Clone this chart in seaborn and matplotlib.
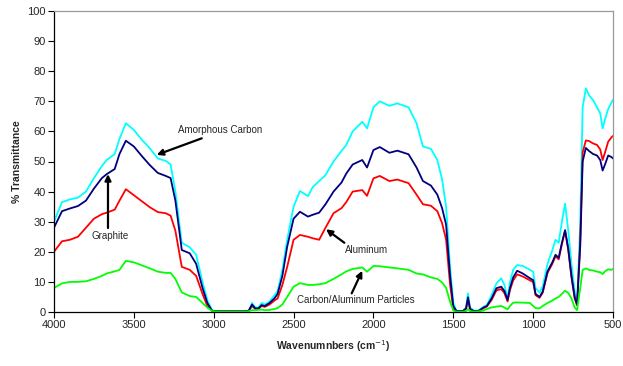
import matplotlib
matplotlib.use("Agg")
import matplotlib.pyplot as plt
import seaborn as sns
import pandas as pd

wavenumbers = [
    4000, 3950, 3900, 3850, 3800, 3750, 3700, 3670, 3620, 3590,
    3550, 3500, 3450, 3400, 3350, 3300, 3270, 3240, 3200, 3150,
    3110, 3070, 3040, 3010, 2950, 2800, 2780, 2760, 2740, 2720,
    2700, 2680, 2650, 2620, 2600, 2570, 2540, 2500, 2460, 2410,
    2380, 2340, 2300, 2250, 2200, 2170, 2130, 2070, 2040, 2000,
    1960, 1900, 1850, 1780, 1730, 1690, 1640, 1600, 1570, 1545,
    1520, 1500, 1480, 1440, 1420, 1408, 1395, 1370, 1340, 1310,
    1290, 1260, 1230, 1200, 1180, 1160, 1145, 1125, 1100, 1065,
    1020, 1000, 985, 960, 940, 910, 880, 860, 840, 820,
    800, 780, 760, 740, 725, 705, 690, 670, 650, 625,
    600, 580, 565, 550, 530, 510, 500]

amorphous_carbon = [
    30, 36.5, 37.4, 38, 40, 44.5, 48.5, 50.5, 52.5, 57.5,
    62.7, 60.5, 57.2, 54.4, 51, 50.2, 49, 40, 23, 21.5,
    19, 10, 4, 0.5, 0.2, 0.2, 0.5, 3, 1.5, 1.5,
    3, 2.5, 3.5, 5.5, 7, 14, 24, 35, 40.2, 38.5,
    41.5, 43.5, 45.5, 50, 53.5, 55.5, 60, 63.2, 61, 68,
    70, 68.5, 69.3, 68, 62.7, 55, 54.2, 50.5, 44, 35,
    15, 3, 0.3, 0.3, 1.5, 6.2, 1.5, 0.4, 0.5, 1.8,
    2.3, 5.6, 9.5, 11.2, 9, 4.5, 10, 14, 15.6, 15.3,
    14, 13.4, 8, 6.5, 8.5, 16, 20.5, 24, 23, 30,
    36, 27, 16, 7, 3, 30, 68, 74.3, 72, 70.4,
    68, 66, 61, 64, 67.5, 69.5, 70.5]

graphite = [
    28, 33.5, 34.4, 35.2, 37, 41, 44.5, 45.8, 47.5, 52.5,
    56.9, 55, 51.8, 48.8, 46.2, 45.2, 44.5, 37, 20.6, 19.5,
    16, 8, 3, 0.4, 0.2, 0.2, 0.5, 2.5, 1.2, 1.2,
    2.3, 2, 3, 4.5, 6, 12, 21.7, 31, 33.3, 31.7,
    32.3, 33, 35.8, 40, 43, 46, 49, 50.5, 48, 53.8,
    54.8, 52.9, 53.6, 52.4, 48, 43.5, 42, 39, 34.5, 29,
    12, 2, 0.3, 0.3, 1.2, 4.9, 1, 0.3, 0.4, 1.5,
    2, 4.5, 7.9, 8.4, 7, 4, 8, 11.5, 13.7, 12.8,
    11.2, 10.6, 6, 5, 6.8, 13.5, 16.5, 19, 18, 23,
    27.2, 21, 12, 5, 2.5, 22, 50, 54.5, 53.5, 52.5,
    52, 50.5, 47, 49, 52, 51.5, 51]

aluminum = [
    20, 23.5, 24, 25, 28, 31, 32.5, 33, 34, 37,
    40.8, 38.8, 36.8, 34.8, 33.2, 32.8, 32, 27, 15, 14,
    12, 6, 2, 0.4, 0.2, 0.2, 0.4, 2, 1, 1,
    2, 1.7, 2.5, 3.8, 4.5, 9, 15, 24, 25.6, 25,
    24.5, 24, 28, 32.8, 34.5, 36.5, 40, 40.5, 38.6, 44.4,
    45.2, 43.5, 44, 42.8, 39, 35.8, 35.3, 33.5, 29.5, 24,
    9, 1, 0.3, 0.3, 1, 4.2, 0.8, 0.3, 0.4, 1.3,
    1.8, 4, 7.2, 7.6, 6.3, 3.5, 7.3, 10.5, 12.5, 11.8,
    10.5, 10, 5.6, 4.7, 6.4, 13, 16, 18.5, 17.5, 22.5,
    27, 20.5, 11.5, 4.5, 2.2, 24, 53, 57, 56.8, 56,
    55.5, 54, 50.5, 53, 56.6, 58, 58.5]

carbon_aluminum = [
    8, 9.5, 10, 10, 10.2, 11, 12, 12.8, 13.5, 14,
    17, 16.5, 15.5, 14.5, 13.4, 13, 13, 11, 6.5, 5.3,
    5, 3, 1.5, 0.3, 0.1, 0.1, 0.3, 0.6, 0.6, 0.7,
    0.8, 0.6, 0.7, 1, 1.3, 2.5, 5, 8.4, 9.6, 9,
    9, 9.2, 9.6, 11, 12.5, 13.5, 14.3, 14.8, 13.4, 15.3,
    15.2, 14.8, 14.5, 14, 12.8, 12.5, 11.5, 11, 9.8, 8,
    3.4, 0.5, 0.1, 0.1, 0.3, 1, 0.3, 0.1, 0.2, 0.5,
    1, 1.5, 1.8, 2, 1.5, 0.9, 2, 3.1, 3.2, 3.1,
    3, 2, 1.3, 1.2, 2, 3, 3.8, 4.5, 5, 6,
    7.1, 6.3, 4.5, 1.5, 0.6, 8, 14, 14.5, 14, 13.8,
    13.4, 13.2, 12.6, 13.5, 14.2, 14, 14.3]

series_names = ["Amorphous Carbon", "Aluminum", "Graphite", "Carbon/Aluminum Particles"]
series_values = [amorphous_carbon, aluminum, graphite, carbon_aluminum]
series_colors = ["#00FFFF", "#FF0000", "#000080", "#00FF00"]

x_ticks = [4000, 3500, 3000, 2500, 2000, 1500, 1000, 500]
y_ticks = [0, 10, 20, 30, 40, 50, 60, 70, 80, 90, 100]

frames = []
for name, vals in zip(series_names, series_values):
    frames.append(pd.DataFrame({"wn": wavenumbers, "T": vals, "sample": name}))
df = pd.concat(frames, ignore_index=True)

sns.set_style("white")
plt.rcParams["font.family"] = ["Liberation Sans", "DejaVu Sans"]

fig = plt.figure(figsize=(6.23, 3.66), dpi=100)
ax = fig.add_axes([54 / 623, 1 - 312 / 366, (613 - 54) / 623, (312 - 11) / 366])

sns.lineplot(data=df, x="wn", y="T", hue="sample", hue_order=series_names,
             palette=dict(zip(series_names, series_colors)), linewidth=1.3,
             estimator=None, ax=ax, legend=False,
             solid_joinstyle="round", solid_capstyle="round")

ax.set_xlim(4000, 500)
ax.set_ylim(0, 100)
ax.set_xticks(x_ticks)
ax.set_yticks(y_ticks)
ax.tick_params(axis="both", labelsize=8, direction="out", length=4, width=0.8,
               color="black", left=True, bottom=True, pad=2)
ax.set_xlabel("Wavenumnbers (cm$^{-1}$)", fontsize=7.5, fontweight="bold", labelpad=6)
ax.set_ylabel("% Transmittance", fontsize=7.5, fontweight="bold", labelpad=4)

for side in ["left", "bottom"]:
    ax.spines[side].set_color("black")
    ax.spines[side].set_linewidth(0.9)
for side in ["top", "right"]:
    ax.spines[side].set_color("#999999")
    ax.spines[side].set_linewidth(0.9)
    ax.spines[side].set_visible(True)

arrow = dict(arrowstyle="-|>", color="black", lw=1.6, mutation_scale=9, shrinkA=0, shrinkB=0)
ax.annotate("", xy=(3357, 52.2), xytext=(3075, 57.7), arrowprops=arrow)
ax.text(2961, 60.5, "Amorphous Carbon", fontsize=7, ha="center", va="center")
ax.annotate("", xy=(3662, 45.8), xytext=(3662, 27.9), arrowprops=arrow)
ax.text(3649, 25.2, "Graphite", fontsize=7, ha="center", va="center")
ax.annotate("", xy=(2297, 27.5), xytext=(2182, 23.0), arrowprops=arrow)
ax.text(2042, 20.6, "Aluminum", fontsize=7, ha="center", va="center")
ax.annotate("", xy=(2070, 13.7), xytext=(2136, 6.2), arrowprops=arrow)
ax.text(2112, 4.0, "Carbon/Aluminum Particles", fontsize=7, ha="center", va="center")

fig.savefig("out.png", dpi=100, facecolor="white")
